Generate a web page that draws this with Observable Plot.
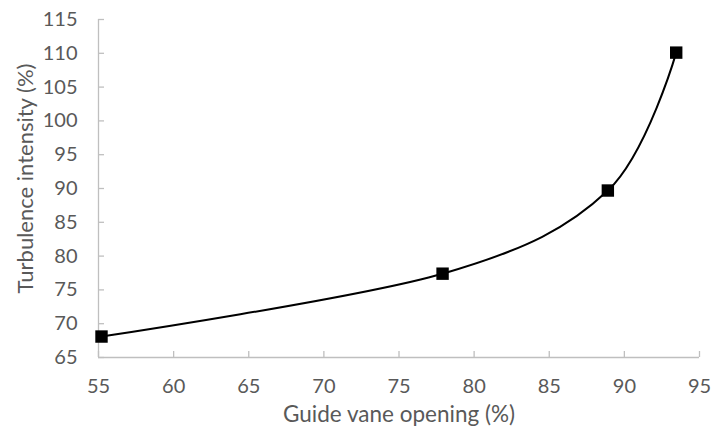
<!DOCTYPE html>
<html>
<head>
<meta charset="utf-8">
<script src="https://cdn.jsdelivr.net/npm/d3@7"></script>
<script src="https://cdn.jsdelivr.net/npm/@observablehq/plot@0.6"></script>
<style>
  html, body { margin: 0; padding: 0; background: white; }
</style>
</head>
<body>
<div id="chart"></div>
<script>
const openings = [55.2, 77.9, 88.9, 93.45];
const turbulence = [68.1, 77.4, 89.7, 110.1];
const xTicks = [55, 60, 65, 70, 75, 80, 85, 90, 95];
const yTicks = [65, 70, 75, 80, 85, 90, 95, 100, 105, 110, 115];
const xTitle = "Guide vane opening (%)";
const yTitle = "Turbulence intensity (%)";

const data = openings.map((x, i) => ({x, y: turbulence[i]}));

const chart = Plot.plot({
  width: 712,
  height: 434,
  marginLeft: 98,
  marginRight: 13,
  marginTop: 19,
  marginBottom: 77,
  x: {domain: [55, 95]},
  y: {domain: [65, 115]},
  style: {fontFamily: "Lato, 'Open Sans', sans-serif", fontSize: "20px", color: "#595959", background: "white"},
  marks: [
    Plot.ruleY([65], {stroke: "#bfbfbf", strokeWidth: 1.3}),
    Plot.ruleX([55], {stroke: "#bfbfbf", strokeWidth: 1.3}),
    Plot.axisX({ticks: xTicks, tickSize: -6, tickPadding: 27, stroke: "#bfbfbf", strokeWidth: 1.3, fill: "#595959", fontSize: 20, label: null, tickFormat: d => String(d)}),
    Plot.axisY({ticks: yTicks, tickSize: -6, tickPadding: 27, stroke: "#bfbfbf", strokeWidth: 1.3, fill: "#595959", fontSize: 20, label: null, tickFormat: d => String(d)}),
    Plot.line(data, {x: "x", y: "y", curve: "cardinal", stroke: "black", strokeWidth: 2}),
    Plot.dot(data, {x: "x", y: "y", symbol: "square", r: 7, fill: "black", stroke: "none"}),
    Plot.text([xTitle], {text: d => d, frameAnchor: "bottom", textAnchor: "middle", dy: 64, fontSize: 22.5, fill: "#595959"}),
    Plot.text([yTitle], {text: d => d, frameAnchor: "left", textAnchor: "middle", dx: -73, dy: -10, rotate: -90, fontSize: 22, fill: "#595959"})
  ]
});
document.getElementById("chart").appendChild(chart);
</script>
</body>
</html>
